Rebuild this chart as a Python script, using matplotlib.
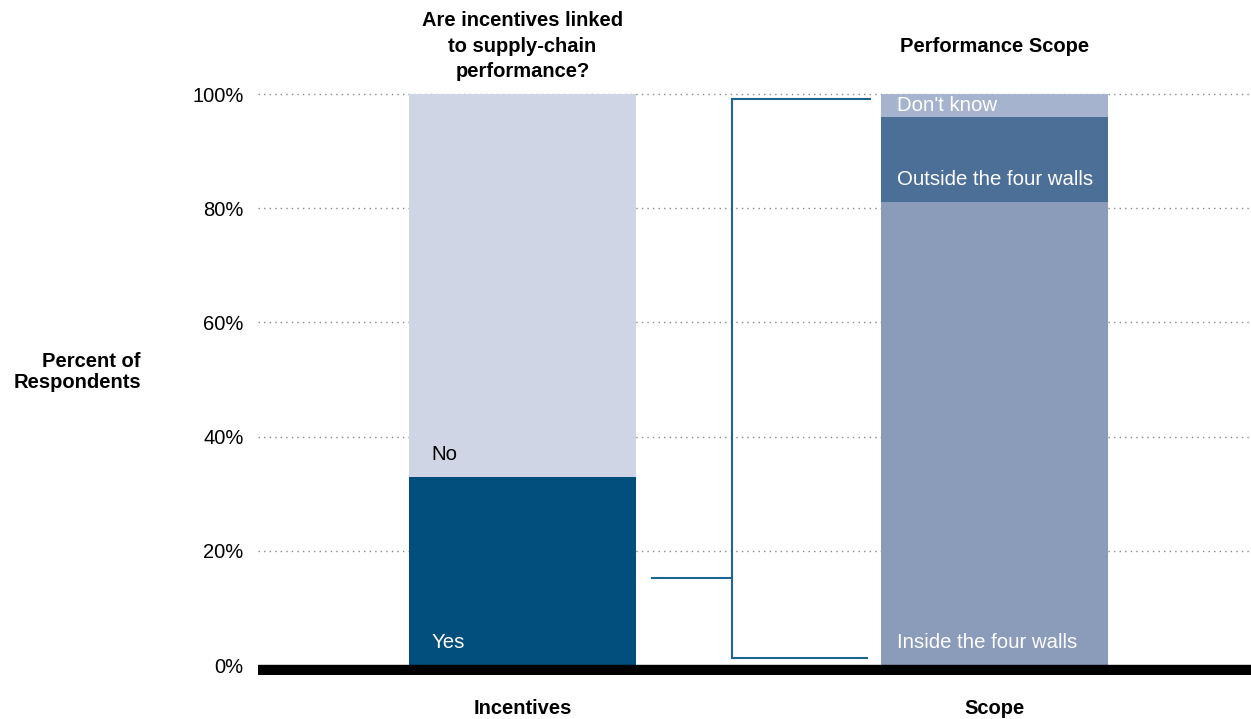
import matplotlib.pyplot as plt

plt.rcParams['font.family'] = ['Liberation Sans', 'DejaVu Sans']

# --- data ---
categories = ["Incentives", "Scope"]
panel_titles = ["Are incentives linked\nto supply-chain\nperformance?", "Performance Scope"]

incentive_labels = ["Yes", "No"]
incentive_values = [33.0, 67.0]
incentive_colors = ["#024e7c", "#cfd5e4"]
incentive_text = ["white", "black"]

scope_labels = ["Inside the four walls", "Outside the four walls", "Don't know"]
scope_values = [81.0, 15.0, 4.0]
scope_colors = ["#8a9cba", "#4c6f98", "#a6b3ce"]
scope_text = ["white", "white", "white"]

yticks = [0, 20, 40, 60, 80, 100]

# --- figure ---
fig = plt.figure(figsize=(12.51, 7.19), dpi=100)
ax = fig.add_axes([258 / 1251, 44 / 719, 1 - 258 / 1251, (675 - 94) / 719])

bar_w = 0.481
x = [0, 1]

# dotted gridlines
for yv in yticks[1:]:
    ax.plot([-0.56, 1.543], [yv, yv], linestyle=(0, (1, 3)), color="#888888",
            linewidth=1.0, zorder=0, clip_on=False)

# stacked bars with labels inside
stacks = [
    (incentive_values, incentive_colors, incentive_labels, incentive_text, 0.047),
    (scope_values, scope_colors, scope_labels, scope_text, 0.034),
]
for xi, (vals, cols, labs, tcols, dx) in zip(x, stacks):
    bottom = 0
    for v, c, lab, tc in zip(vals, cols, labs, tcols):
        ax.bar(xi, v, bottom=bottom, width=bar_w, color=c, zorder=2)
        if lab == "Outside the four walls":
            ty = bottom + v / 2 - 3.5
        elif lab == "Don't know":
            ty = bottom + v / 2
        else:
            ty = bottom + 3.9
        ax.text(xi - bar_w / 2 + dx, ty, lab, color=tc, fontsize=14.7,
                ha="left", va="center", zorder=3)
        bottom += v

# bracket linking "Yes" to the scope bar
bc = "#1f6592"
br_mid = incentive_values[0] * 0.46
ax.plot([0.2744, 0.4439], [br_mid, br_mid], color=bc, lw=1.5, zorder=2)
ax.plot([0.4439, 0.4439], [1.2, 99.1], color=bc, lw=1.5, zorder=2)
ax.plot([0.4439, 0.736], [99.1, 99.1], color=bc, lw=1.5, zorder=2)
ax.plot([0.4439, 0.730], [1.2, 1.2], color=bc, lw=1.5, zorder=2)

# thick baseline
ax.axhspan(-1.75, 0, color="black", zorder=4)

ax.set_xlim(-0.5604, 1.5434)
ax.set_ylim(-1.75, 100)
ax.set_yticks(yticks)
ax.set_yticklabels([f"{t}%" for t in yticks], fontsize=14.5)
ax.tick_params(axis="y", length=0, pad=10.5)
ax.set_xticks([])
for s in ax.spines.values():
    s.set_visible(False)

# panel titles and category labels
for xi, t, c in zip(x, panel_titles, categories):
    xf = (258 + (xi + 0.5604) * 472) / 1251
    fig.text(xf, 1 - 46 / 719, t, ha="center", va="center", fontsize=14.5,
             fontweight="bold", linespacing=1.46)
    fig.text(xf, 1 - 708 / 719, c, ha="center", va="center", fontsize=14.5,
             fontweight="bold")

fig.text(141 / 1251, 1 - 372 / 719, "Percent of\nRespondents", ha="right",
         va="center", fontsize=14.5, fontweight="bold", multialignment="right",
         linespacing=1.18)

fig.savefig("out.png", dpi=100)
